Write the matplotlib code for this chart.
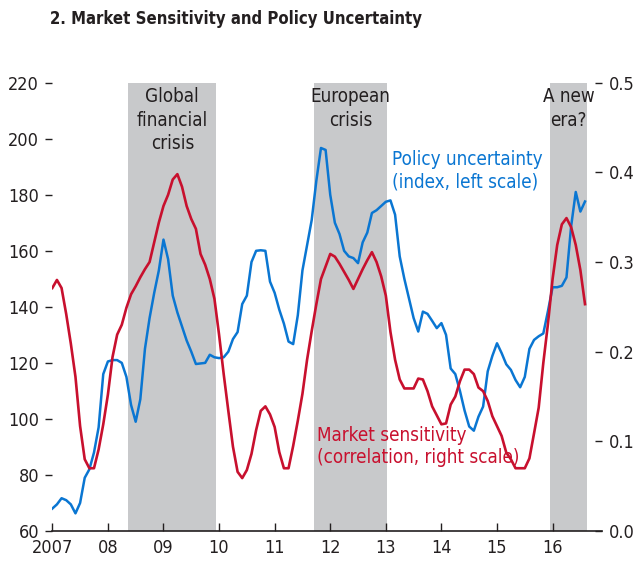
import numpy as np
import matplotlib
matplotlib.use("Agg")
import matplotlib.pyplot as plt

plt.rcParams['font.family'] = ['DejaVu Sans']
plt.rcParams['font.stretch'] = 'condensed'

# monthly, Jan 2007 .. Aug 2016
start_year = 2007
policy_uncertainty = [
    68, 69.5, 71.7, 71, 69.5, 66.3, 70, 79, 82, 88, 97, 116,
    120.5, 121, 121, 120, 115, 105, 99, 107, 125, 136, 145, 153,
    164, 157, 144, 138, 133, 128, 124, 119.6, 119.8, 120, 122.9, 122,
    121.7, 122, 124, 128.5, 131, 141, 144, 156, 160, 160.2, 160, 149,
    145, 139, 134, 127.6, 126.7, 137, 153, 162, 171, 185, 196.7, 196,
    180, 170, 166, 160, 158, 157.4, 155.6, 163, 166.5, 173.5, 174.5, 176,
    177.5, 178, 172.9, 158, 150, 143, 136, 131.2, 138.3, 137.5, 135, 132.4,
    134.2, 130, 118, 116, 110, 103, 97.3, 95.8, 100.8, 104.4, 117, 122.5,
    127, 123.5, 119.5, 117.5, 113.9, 111.3, 115, 125, 128.2, 129.5, 130.5, 138.5,
    147, 147, 147.5, 150.5, 168.7, 181, 174, 177.6,
]
market_sensitivity = [
    0.271, 0.280, 0.271, 0.242, 0.209, 0.172, 0.117, 0.080, 0.070, 0.070, 0.091, 0.119,
    0.152, 0.194, 0.219, 0.230, 0.249, 0.264, 0.273, 0.283, 0.292, 0.300, 0.322, 0.344,
    0.3625, 0.375, 0.392, 0.398, 0.384, 0.3625, 0.348, 0.337, 0.309, 0.297, 0.281, 0.259,
    0.219, 0.175, 0.134, 0.094, 0.066, 0.059, 0.068, 0.086, 0.1125, 0.134, 0.139, 0.130,
    0.116, 0.088, 0.070, 0.070, 0.095, 0.123, 0.153, 0.191, 0.223, 0.253, 0.281, 0.295,
    0.309, 0.306, 0.298, 0.289, 0.280, 0.270, 0.281, 0.292, 0.302, 0.311, 0.300, 0.284,
    0.2625, 0.222, 0.191, 0.169, 0.159, 0.159, 0.159, 0.170, 0.169, 0.156, 0.139, 0.129,
    0.119, 0.120, 0.141, 0.150, 0.167, 0.180, 0.180, 0.175, 0.160, 0.156, 0.145, 0.128,
    0.117, 0.106, 0.0875, 0.080, 0.070, 0.070, 0.070, 0.081, 0.109, 0.1375, 0.1875, 0.231,
    0.281, 0.319, 0.342, 0.349, 0.339, 0.319, 0.291, 0.253,
]
# shaded episodes (start, end) in years
episodes = [(2008.37, 2009.95), (2011.70, 2013.03), (2015.96, 2016.62)]
episode_labels = ["Global\nfinancial\ncrisis", "European\ncrisis", "A new\nera?"]
xtick_years = list(range(2007, 2017))
xtick_labels = ["2007"] + ["%02d" % (y % 100) for y in xtick_years[1:]]

t_blue = start_year + np.arange(len(policy_uncertainty)) / 12.0
t_red = start_year + np.arange(len(market_sensitivity)) / 12.0

blue = "#0a76d2"
red = "#c8102e"
shade = "#c8c9cb"
ink = "#231f20"

fig = plt.figure(figsize=(6.43, 5.67), dpi=100)
ax = fig.add_axes([52.3 / 643, 1 - 531 / 567, (601.5 - 52.3) / 643, (531 - 82.7) / 567])
ax2 = ax.twinx()

for (a, b) in episodes:
    ax.axvspan(a, b, color=shade, lw=0, zorder=0)

ax.plot(t_blue, policy_uncertainty, color=blue, lw=1.8, zorder=3)
ax2.plot(t_red, market_sensitivity, color=red, lw=1.9, zorder=3)

ax.set_xlim(2007, 2016.88)
ax.set_ylim(60, 220)
ax2.set_ylim(0, 0.5)
ax.set_yticks(range(60, 221, 20))
ax2.set_yticks(np.arange(0, 0.51, 0.1))
ax2.set_yticklabels(["%.1f" % v for v in np.arange(0, 0.51, 0.1)])
ax.set_xticks(xtick_years)
ax.set_xticklabels(xtick_labels)

for a in (ax, ax2):
    for s in ("top", "left", "right"):
        a.spines[s].set_visible(False)
    a.spines["bottom"].set_visible(a is ax)
    a.patch.set_visible(False)
ax.spines["bottom"].set_color(ink)
ax.spines["bottom"].set_linewidth(1.2)

ax.tick_params(axis="y", direction="out", length=5, width=1, pad=4.5, labelsize=13, colors=ink)
ax2.tick_params(axis="y", direction="in", length=5, width=1, pad=5, labelsize=13, colors=ink)
ax.tick_params(axis="x", direction="in", length=6, width=1, pad=6, labelsize=13, colors=ink)

centers = [(a + b) / 2 for a, b in episodes]
for c, lab in zip(centers, episode_labels):
    ax.text(c, 218.3, lab, ha="center", va="top", fontsize=13.5, color=ink, linespacing=1.3)

ax.text(2013.11, 196, "Policy uncertainty\n(index, left scale)", color=blue,
        fontsize=13.5, ha="left", va="top", linespacing=1.25)
ax.text(2011.76, 97.6, "Market sensitivity\n(correlation, right scale)", color=red,
        fontsize=13.5, ha="left", va="top", linespacing=1.25)

fig.text(50 / 643, 1 - 19 / 567, "2. Market Sensitivity and Policy Uncertainty",
         fontsize=12, fontweight="bold", color=ink, ha="left", va="center")

fig.savefig("out.png", dpi=100)
